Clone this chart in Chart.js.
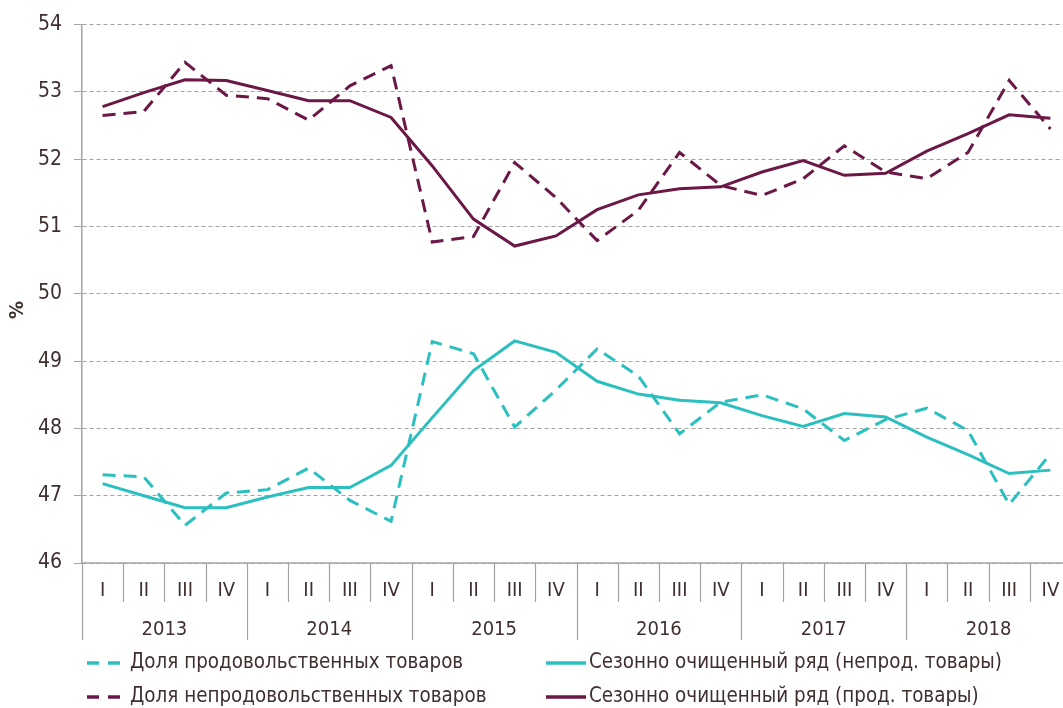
<!DOCTYPE html>
<html>
<head>
<meta charset="utf-8">
<script src="https://cdn.jsdelivr.net/npm/chart.js@4"></script>
<style>
  html, body { margin: 0; padding: 0; background: #fff; overflow: hidden; }
  canvas { display: block; }
</style>
</head>
<body>
<canvas id="mygraph" width="1075" height="708"></canvas>
<script>
const quarters = ["I", "II", "III", "IV", "I", "II", "III", "IV", "I", "II", "III", "IV",
                  "I", "II", "III", "IV", "I", "II", "III", "IV", "I", "II", "III", "IV"]
const years = ["2013", "2014", "2015", "2016", "2017", "2018"]
const yTicks = [46, 47, 48, 49, 50, 51, 52, 53, 54]

const foodShare = [47.31, 47.28, 46.56, 47.04, 47.09, 47.41, 46.93, 46.62, 49.29, 49.11, 48.02, 48.57,
                   49.18, 48.78, 47.92, 48.39, 48.50, 48.29, 47.82, 48.13, 48.30, 47.97, 46.87, 47.62]
const nonFoodShare = [52.65, 52.71, 53.44, 52.95, 52.90, 52.58, 53.09, 53.39, 50.77, 50.85, 51.95, 51.43,
                      50.79, 51.24, 52.10, 51.61, 51.46, 51.71, 52.20, 51.81, 51.71, 52.10, 53.17, 52.45]
const seasNonFood = [47.18, 47.00, 46.82, 46.82, 46.98, 47.12, 47.12, 47.45, 48.16, 48.86, 49.30, 49.13,
                     48.70, 48.51, 48.42, 48.38, 48.19, 48.03, 48.22, 48.17, 47.87, 47.61, 47.33, 47.38]
const seasFood = [52.78, 52.99, 53.18, 53.17, 53.02, 52.87, 52.87, 52.62, 51.90, 51.11, 50.71, 50.86,
                  51.25, 51.47, 51.56, 51.59, 51.81, 51.98, 51.76, 51.79, 52.12, 52.38, 52.66, 52.61]

const TEAL = "#2bbfbf"
const MAROON = "#6b1846"
const TXT = "#3f2f2f"
const AXIS = "#a3a3a3"
const FONT = "'DejaVu Sans Condensed', sans-serif"
const DASH = [13, 8]

// axe x a deux niveaux + legende, dessines a la main
const extras = {
  id: "extras",
  afterDraw(chart) {
    const ctx = chart.ctx
    const x = chart.scales.x
    const area = chart.chartArea
    const bottom = area.bottom
    const w = (area.right - area.left) / quarters.length
    ctx.save()
    ctx.strokeStyle = AXIS
    ctx.lineWidth = 1.5
    ctx.beginPath()
    ctx.moveTo(area.left, bottom)
    ctx.lineTo(area.right, bottom)
    ctx.stroke()
    ctx.lineWidth = 1.2
    for (let i = 0; i <= quarters.length; i++) {
      const px = Math.round(x.getPixelForValue(i) - w / 2) + 0.5
      ctx.beginPath()
      ctx.moveTo(px, bottom)
      ctx.lineTo(px, bottom + (i % 4 === 0 ? 77 : 39))
      ctx.stroke()
    }
    ctx.fillStyle = TXT
    ctx.font = "20px " + FONT
    ctx.textAlign = "center"
    ctx.textBaseline = "middle"
    quarters.forEach((q, i) => ctx.fillText(q, x.getPixelForValue(i), bottom + 28))
    years.forEach((y, i) => {
      const c = (x.getPixelForValue(i * 4) + x.getPixelForValue(i * 4 + 3)) / 2
      ctx.fillText(y, c, bottom + 67)
    })

    // titre axe y
    ctx.save()
    ctx.translate(18, 310)
    ctx.rotate(-Math.PI / 2)
    ctx.font = "bold 20px " + FONT
    ctx.fillText("%", 0, 0)
    ctx.restore()

    // legende
    const items = [
      { ds: 0, x: 87, y: 663 },
      { ds: 2, x: 546, y: 663 },
      { ds: 1, x: 87, y: 697 },
      { ds: 3, x: 546, y: 697 }
    ]
    ctx.textAlign = "left"
    ctx.font = "20.4px " + FONT
    items.forEach(it => {
      const ds = chart.data.datasets[it.ds]
      ctx.strokeStyle = ds.borderColor
      ctx.lineWidth = 3.5
      ctx.setLineDash(ds.borderDash ? [12, 9] : [])
      ctx.beginPath()
      ctx.moveTo(it.x, it.y)
      ctx.lineTo(it.x + (ds.borderDash ? 36 : 40), it.y)
      ctx.stroke()
      ctx.setLineDash([])
      ctx.fillText(ds.label, it.x + 43, it.y)
    })
    ctx.restore()
  }
}

const data = {
  labels: quarters,
  datasets: [
    { label: "Доля продовольственных товаров", data: foodShare, borderColor: TEAL, borderDash: DASH },
    { label: "Доля непродовольственных товаров", data: nonFoodShare, borderColor: MAROON, borderDash: DASH },
    { label: "Сезонно очищенный ряд (непрод. товары)", data: seasNonFood, borderColor: TEAL },
    { label: "Сезонно очищенный ряд (прод. товары)", data: seasFood, borderColor: MAROON }
  ]
}

const config = {
  type: "line",
  data,
  options: {
    responsive: false,
    animation: false,
    layout: { padding: { left: 0, top: 24, right: 4, bottom: 145 } },
    elements: {
      line: { borderWidth: 3, tension: 0, fill: false },
      point: { radius: 0 }
    },
    plugins: { legend: { display: false }, tooltip: { enabled: false } },
    scales: {
      x: { type: "category", offset: true, display: false },
      y: {
        min: 46, max: 54,
        afterFit(scale) { scale.width = 82 },
        afterBuildTicks(scale) { scale.ticks = yTicks.map(v => ({ value: v })) },
        grid: { color: AXIS, lineWidth: 1, tickLength: 8 },
        border: { display: true, color: AXIS, width: 1.5, dash: [4, 3] },
        ticks: { color: TXT, padding: 12, font: { size: 21, family: FONT } }
      }
    }
  },
  plugins: [extras]
}

const mygraph = new Chart(document.getElementById("mygraph"), config)
</script>
</body>
</html>
